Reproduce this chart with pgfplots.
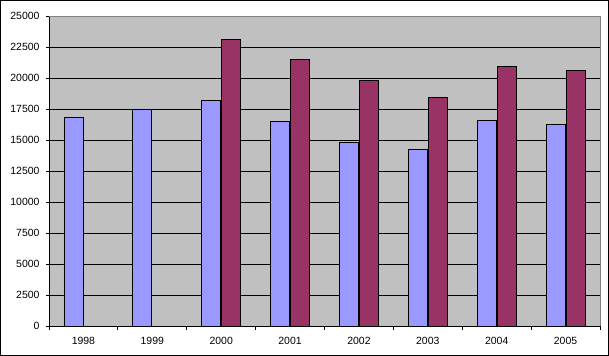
\documentclass[border=0pt]{standalone}
\usepackage{pgfplots}
\pgfplotsset{compat=1.18}
\usepackage{fontspec}
\setmainfont{Liberation Sans}
\definecolor{barblue}{HTML}{9999FF}
\definecolor{barred}{HTML}{993366}
\definecolor{plotbg}{HTML}{C0C0C0}
\definecolor{frameg}{HTML}{808080}
\begin{document}
\begin{tikzpicture}
\begin{axis}[
  name=ax,
  scale only axis,
  width=551bp, height=310bp,
  xmin=0.5, xmax=8.5,
  ymin=0, ymax=25000,
  ytick={0,2500,...,25000},
  xtick={1,...,8},
  xticklabels={1998,1999,2000,2001,2002,2003,2004,2005},
  minor xtick={0.5,1.5,...,8.5},
  major x tick style={draw=none},
  tick align=outside,
  major tick length=3bp,
  minor tick length=4bp,
  axis x line*=bottom,
  axis y line*=left,
  axis line style={-, black, line width=0.8bp},
  every tick/.style={black, line width=0.8bp},
  axis background/.style={fill=plotbg},
  ymajorgrids,
  grid style={black, line width=0.8bp},
  scaled y ticks=false,
  ticklabel style={font=\fontsize{10.5}{12}\selectfont},
  yticklabel style={/pgf/number format/1000 sep={}, /pgf/number format/assume math mode=true, xshift=-3bp},
  xticklabel style={/pgf/number format/assume math mode=true, yshift=-5bp},
  clip=false,
  bar width=19bp,
]
\addplot[ybar, bar shift=-10bp, fill=barblue, draw=black, line width=0.8bp] coordinates {
  (1,16850) (2,17500) (3,18200) (4,16500) (5,14820) (6,14260) (7,16600) (8,16270)
};
\addplot[ybar, bar shift=10bp, fill=barred, draw=black, line width=0.8bp] coordinates {
  (3,23120) (4,21500) (5,19820) (6,18450) (7,20950) (8,20620)
};
\draw[frameg, line width=0.8bp] (rel axis cs:0,1) -- (rel axis cs:1,1) -- (rel axis cs:1,0);
\end{axis}
\draw[black, line width=1bp] ([xshift=-48.5bp,yshift=-29.5bp]ax.south west) rectangle ([xshift=8.5bp,yshift=15.5bp]ax.north east);
\end{tikzpicture}
\end{document}
